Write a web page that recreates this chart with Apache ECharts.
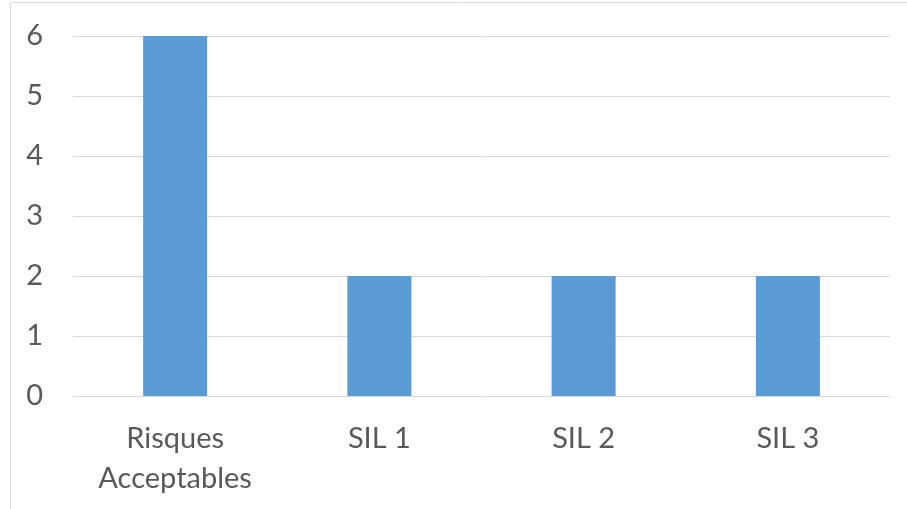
<!DOCTYPE html>
<html>
<head>
<meta charset="utf-8">
<script src="https://cdn.jsdelivr.net/npm/echarts@6/dist/echarts.min.js"></script>
<style>
  html, body { margin: 0; padding: 0; background: #ffffff; }
  #chart { width: 907px; height: 509px; }
</style>
</head>
<body>
<div id="chart"></div>
<script>
// Number of risks per safety integrity level
const categories = ['Risques\nAcceptables', 'SIL 1', 'SIL 2', 'SIL 3'];
const counts = [6, 2, 2, 2];
const yTicks = [0, 1, 2, 3, 4, 5, 6];

const textColor = '#595959';
const gridColor = '#d9d9d9';
const barColor = '#5b9bd5';
const fontFamily = 'Lato, "Open Sans", sans-serif';

const chart = echarts.init(document.getElementById('chart'), null, { renderer: 'canvas' });

chart.setOption({
  backgroundColor: '#ffffff',
  animation: false,
  graphic: [{
    type: 'rect',
    shape: { x: 10.5, y: 2.5, width: 1000, height: 1000 },
    style: { fill: 'none', stroke: gridColor, lineWidth: 1 },
    silent: true
  }],
  grid: { left: 73, right: 17, top: 36, bottom: 113 },
  xAxis: {
    type: 'category',
    data: categories,
    axisLine: { show: true, lineStyle: { color: gridColor, width: 1 } },
    axisTick: { show: false },
    axisLabel: {
      color: textColor,
      fontFamily: fontFamily,
      fontSize: 29,
      lineHeight: 40,
      margin: 23,
      interval: 0
    }
  },
  yAxis: {
    type: 'value',
    min: yTicks[0],
    max: yTicks[yTicks.length - 1],
    interval: 1,
    axisLine: { show: false },
    axisTick: { show: false },
    splitLine: { show: true, lineStyle: { color: gridColor, width: 1 } },
    axisLabel: {
      color: textColor,
      fontFamily: fontFamily,
      fontSize: 29,
      margin: 30
    }
  },
  series: [{
    type: 'bar',
    data: counts,
    barWidth: 64,
    itemStyle: { color: barColor }
  }]
});
</script>
</body>
</html>
